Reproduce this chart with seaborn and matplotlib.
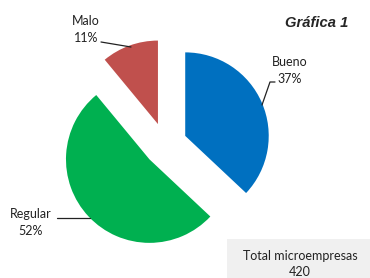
import matplotlib
matplotlib.use("Agg")
import matplotlib.pyplot as plt
from matplotlib.lines import Line2D
from matplotlib.patches import Rectangle
import seaborn as sns

# data
categorias = ["Bueno", "Regular", "Malo"]
porcentajes = [37, 52, 11]
colores = ["#0070C0", "#00B050", "#C0504D"]
titulo = "Gráfica 1"
total_label = "Total microempresas"
total = 420

sns.set_theme(style="white")
plt.rcParams["font.family"] = ["Lato", "DejaVu Sans"]

W, H = 370, 278
fig = plt.figure(figsize=(W / 100, H / 100), dpi=100)

# pie axes: centre at (165, 144.5) px from top-left, radius ~83.5 px
cx, cy, half = 165.3, 144.5, 140
lim = half / 83.5
ax = fig.add_axes([(cx - half) / W, (H - cy - half) / H, 2 * half / W, 2 * half / H])
ax.pie(porcentajes, colors=colores, startangle=90, counterclock=False,
       explode=[0.26] * len(porcentajes), wedgeprops=dict(linewidth=0))
ax.set_xlim(-lim, lim)
ax.set_ylim(-lim, lim)
ax.set_aspect("equal")
ax.axis("off")


def px(x, y):
    return x / W, 1 - y / H


fs = 9.0
# labels + leader lines
labels_pos = {"Bueno": (290, 62, 79), "Regular": (31, 214, 231), "Malo": (86, 21, 38)}
for cat, pct in zip(categorias, porcentajes):
    x, y1, y2 = labels_pos[cat]
    fig.text(*px(x, y1), cat, ha="center", va="center", fontsize=fs, color="#222222")
    fig.text(*px(x, y2), f"{pct}%", ha="center", va="center", fontsize=fs, color="#222222")

leaders = [
    [(262, 105), (270, 82), (275, 82)],
    [(57, 218), (90, 218)],
    [(101, 42), (131, 47)],
]
for pts in leaders:
    xs = [p[0] / W for p in pts]
    ys = [1 - p[1] / H for p in pts]
    fig.add_artist(Line2D(xs, ys, color="#222222", linewidth=0.9))

# title
fig.text(*px(317, 23), titulo, ha="center", va="center", fontsize=10.6,
         fontweight="bold", fontstyle="italic", family=["Liberation Sans", "DejaVu Sans"])

# total box
fig.add_artist(Rectangle(px(227, 278), (W - 227) / W, (278 - 239) / H,
                         facecolor="#F0F0F0", edgecolor="none", transform=fig.transFigure))
fig.text(*px(300, 256), total_label, ha="center", va="center", fontsize=fs, color="#222222")
fig.text(*px(300, 272), str(total), ha="center", va="center", fontsize=fs, color="#222222")

fig.savefig("out.png", dpi=100, facecolor="white")
